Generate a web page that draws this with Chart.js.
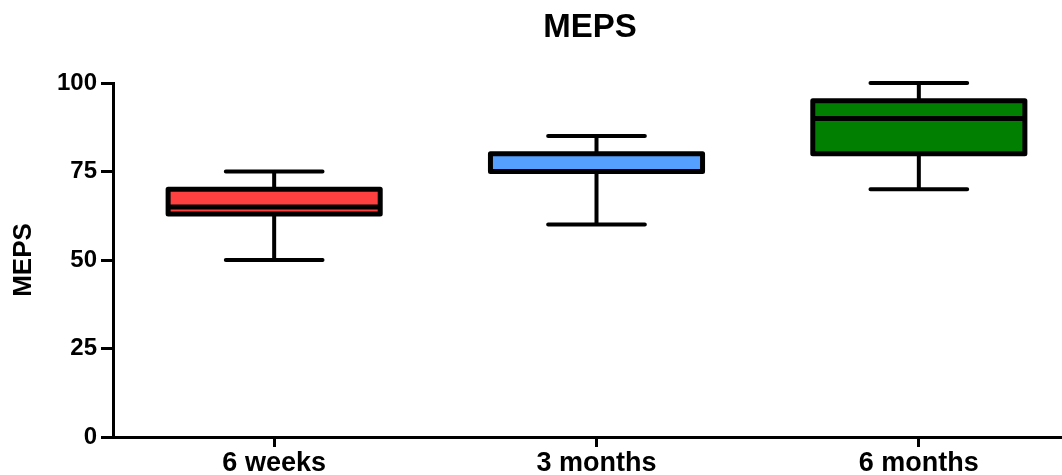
<!DOCTYPE html>
<html>
<head>
<meta charset="utf-8">
<script src="https://cdn.jsdelivr.net/npm/chart.js@4/dist/chart.umd.min.js"></script>
<style>
  html, body { margin: 0; padding: 0; background: #fff; overflow: hidden; }
  #wrap { width: 1080px; height: 475px; }
</style>
</head>
<body>
<div id="wrap"><canvas id="chart"></canvas></div>
<script>
// 数据：箱线图五数概括
const categories = ['6 weeks', '3 months', '6 months'];
const minValues = [50, 60, 70];
const q1Values = [63, 75, 80];
const medianValues = [65, 75, 90];
const q3Values = [70, 80, 95];
const maxValues = [75, 85, 100];
const yTicks = [0, 25, 50, 75, 100];
const boxColors = ['#FF4040', '#559FFF', '#007F00'];

const FONT = '"Liberation Sans", Arial, sans-serif';

// 须线、箱体边框和中位线插件
const boxPlotPlugin = {
    id: 'boxPlot',
    beforeDatasetsDraw(chart) {
        const { ctx, scales: { x, y } } = chart;
        const capHalf = x.width / categories.length * 0.15;
        ctx.save();
        ctx.strokeStyle = '#000';
        ctx.lineWidth = 4;
        ctx.lineCap = 'round';
        categories.forEach((c, i) => {
            const cx = x.getPixelForValue(i);
            const yMin = y.getPixelForValue(minValues[i]);
            const yMax = y.getPixelForValue(maxValues[i]);
            ctx.beginPath();
            ctx.moveTo(cx, yMin);
            ctx.lineTo(cx, yMax);
            ctx.moveTo(cx - capHalf, yMin);
            ctx.lineTo(cx + capHalf, yMin);
            ctx.moveTo(cx - capHalf, yMax);
            ctx.lineTo(cx + capHalf, yMax);
            ctx.stroke();
        });
        ctx.restore();
    },
    afterDatasetsDraw(chart) {
        const { ctx, scales: { y } } = chart;
        const meta = chart.getDatasetMeta(0);
        ctx.save();
        ctx.strokeStyle = '#000';
        ctx.lineWidth = 5;
        ctx.lineJoin = 'round';
        meta.data.forEach((bar, i) => {
            const half = bar.width / 2;
            const top = y.getPixelForValue(q3Values[i]);
            const bottom = y.getPixelForValue(q1Values[i]);
            ctx.strokeRect(bar.x - half, top, bar.width, bottom - top);
            const my = y.getPixelForValue(medianValues[i]);
            ctx.beginPath();
            ctx.moveTo(bar.x - half, my);
            ctx.lineTo(bar.x + half, my);
            ctx.stroke();
        });
        ctx.restore();
    },
    afterDraw(chart) {
        const { ctx } = chart;
        ctx.save();
        ctx.fillStyle = '#000';
        ctx.font = 'bold 33px ' + FONT;
        ctx.textAlign = 'center';
        ctx.textBaseline = 'middle';
        ctx.fillText('MEPS', 590, 28);
        ctx.restore();
    }
};

new Chart(document.getElementById('chart'), {
    type: 'bar',
    data: {
        labels: categories,
        datasets: [{
            label: 'MEPS',
            data: categories.map((c, i) => [q1Values[i], q3Values[i]]),
            backgroundColor: boxColors,
            borderWidth: 0,
            barPercentage: 0.658,
            categoryPercentage: 1
        }]
    },
    options: {
        responsive: true,
        maintainAspectRatio: false,
        animation: false,
        events: [],
        layout: { padding: { top: 83, left: 0, right: 0, bottom: 0 } },
        plugins: {
            legend: { display: false },
            title: { display: false },
            tooltip: { enabled: false }
        },
        scales: {
            x: {
                type: 'category',
                offset: true,
                afterFit(scale) { scale.height = 38; },
                border: { display: true, color: '#000', width: 3 },
                grid: {
                    offset: false,
                    drawOnChartArea: false,
                    drawTicks: true,
                    tickLength: 10,
                    tickWidth: 3,
                    tickColor: '#000'
                },
                ticks: {
                    color: '#000',
                    padding: 0,
                    maxRotation: 0,
                    font: { family: FONT, size: 27, weight: 'bold' }
                }
            },
            y: {
                min: 0,
                max: 100,
                afterFit(scale) { scale.width = 113; },
                afterBuildTicks(scale) { scale.ticks = yTicks.map(v => ({ value: v })); },
                border: { display: true, color: '#000', width: 3 },
                grid: {
                    drawOnChartArea: false,
                    drawTicks: true,
                    tickLength: 12,
                    tickWidth: 3,
                    tickColor: '#000'
                },
                ticks: {
                    color: '#000',
                    padding: 4,
                    font: { family: FONT, size: 24, weight: 'bold' }
                },
                title: {
                    display: true,
                    text: 'MEPS',
                    color: '#000',
                    padding: { top: 8, bottom: 0 },
                    font: { family: FONT, size: 26, weight: 'bold' }
                }
            }
        }
    },
    plugins: [boxPlotPlugin]
});
</script>
</body>
</html>
